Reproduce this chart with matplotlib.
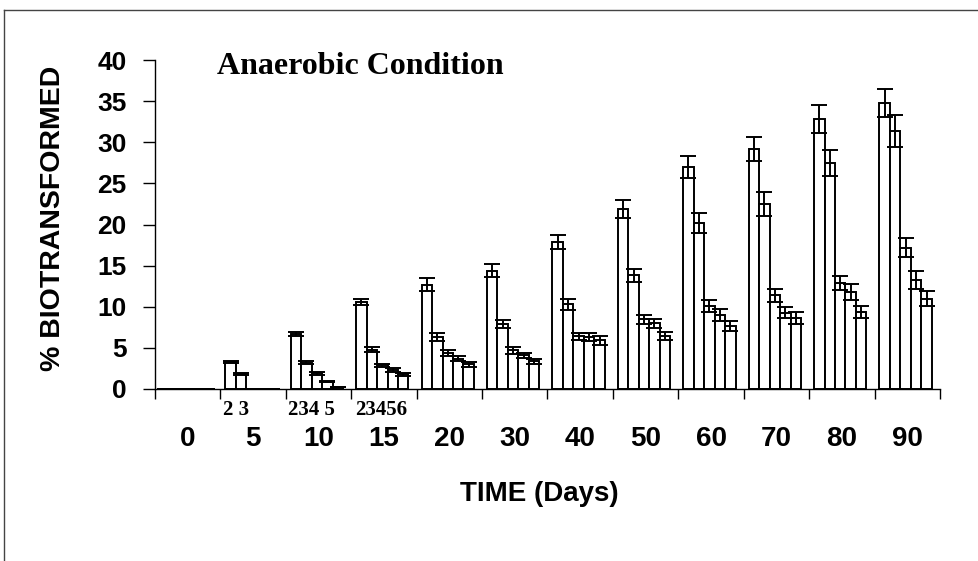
import matplotlib
matplotlib.use("Agg")
import matplotlib.pyplot as plt
import numpy as np
from matplotlib.lines import Line2D

# sampling days (one group of bars per day)
days = ['0', '5', '10', '15', '20', '30', '40', '50', '60', '70', '80', '90']
series_ids = ['2', '3', '4', '5', '6']

# % biotransformed for each series
s2 = [0, 3.3, 6.7, 10.6, 12.7, 14.4, 17.9, 21.9, 27.0, 29.2, 32.8, 34.8]
s3 = [0, 1.8, 3.2, 4.8, 6.3, 7.9, 10.3, 13.8, 20.2, 22.5, 27.5, 31.4]
s4 = [0, 0, 1.9, 2.9, 4.4, 4.7, 6.4, 8.5, 10.1, 11.4, 12.9, 17.2]
s5 = [0, 0, 0.9, 2.3, 3.7, 4.1, 6.3, 8.0, 9.0, 9.3, 11.8, 13.2]
s6 = [0, 0, 0.25, 1.8, 3.0, 3.4, 5.9, 6.4, 7.7, 8.6, 9.4, 11.0]

# error bars
e2 = [0, 0.1, 0.25, 0.35, 0.75, 0.75, 0.85, 1.1, 1.3, 1.45, 1.7, 1.7]
e3 = [0, 0.1, 0.2, 0.25, 0.5, 0.5, 0.65, 0.85, 1.2, 1.45, 1.55, 1.95]
e4 = [0, 0, 0.15, 0.2, 0.35, 0.4, 0.4, 0.55, 0.75, 0.8, 0.85, 1.1]
e5 = [0, 0, 0.1, 0.2, 0.3, 0.3, 0.45, 0.55, 0.75, 0.65, 0.95, 1.1]
e6 = [0, 0, 0.05, 0.2, 0.3, 0.3, 0.55, 0.5, 0.6, 0.75, 0.75, 0.9]

# series numbers printed under the first groups
small_labels = {1: '2 3', 2: '234 5', 3: '23456'}

values = [s2, s3, s4, s5, s6]
errors = [e2, e3, e4, e5, e6]

fig = plt.figure(figsize=(9.79, 5.61), dpi=100)
ax = fig.add_axes([155 / 979, 1 - 389 / 561, 785 / 979, 329 / 561])

sans = 'Liberation Sans'
serif = 'Liberation Serif'

groups = np.arange(len(days))
width = 0.16
start = 0.075

for k, (vals, errs) in enumerate(zip(values, errors)):
    x = groups + start + width * (k + 0.5)
    ax.bar(x, vals, width=width, color='white', edgecolor='black',
           linewidth=1.4, clip_on=False, zorder=2)
    ax.errorbar(x, vals, yerr=errs, fmt='none', ecolor='black',
                elinewidth=1.4, capsize=5.5, capthick=1.4, clip_on=False, zorder=3)

ax.set_xlim(0, len(days))
ax.set_ylim(0, 40)

ax.spines['top'].set_visible(False)
ax.spines['right'].set_visible(False)
ax.spines['left'].set_linewidth(1.0)
ax.spines['bottom'].set_linewidth(1.0)

ax.set_yticks(np.arange(0, 41, 5))
ax.tick_params(axis='y', direction='out', length=8.5, width=1, pad=12)
for lab in ax.get_yticklabels():
    lab.set_fontfamily(sans)
    lab.set_fontweight('bold')
    lab.set_fontsize(19)

# group boundary ticks, day labels at the centres
ax.set_xticks(np.arange(0, len(days) + 1))
ax.set_xticklabels([])
ax.tick_params(axis='x', which='major', direction='out', length=7, width=1)
ax.set_xticks(groups + 0.5, minor=True)
ax.set_xticklabels(days, minor=True, fontfamily=sans, fontweight='bold', fontsize=20)
ax.tick_params(axis='x', which='minor', length=0, pad=27)

for g, txt in small_labels.items():
    off = 0.39 if g == 2 else 0.46 if g == 3 else start + width
    ax.text(g + off, -3.2, txt, ha='center', va='baseline', fontfamily=serif,
            fontweight='bold', fontsize=15, clip_on=False)

ax.set_ylabel('% BIOTRANSFORMED', fontfamily=sans, fontweight='bold', fontsize=20.5)
ax.yaxis.set_label_coords(-0.113, 0.518)

ax.text(0.49, -0.32, 'TIME (Days)', transform=ax.transAxes, ha='center', va='center',
        fontfamily=sans, fontweight='bold', fontsize=20)

ax.text(0.079, 38.3, 'Anaerobic Condition', transform=ax.get_yaxis_transform(),
        ha='left', va='baseline', fontfamily=serif, fontweight='bold', fontsize=23)

# outer frame (left and top edges visible)
fig.add_artist(Line2D([4 / 979, 4 / 979], [0, 1 - 10 / 561], color='#444444', lw=1))
fig.add_artist(Line2D([4 / 979, 1], [1 - 10 / 561, 1 - 10 / 561], color='#444444', lw=1))

fig.savefig('out.png', dpi=100)
